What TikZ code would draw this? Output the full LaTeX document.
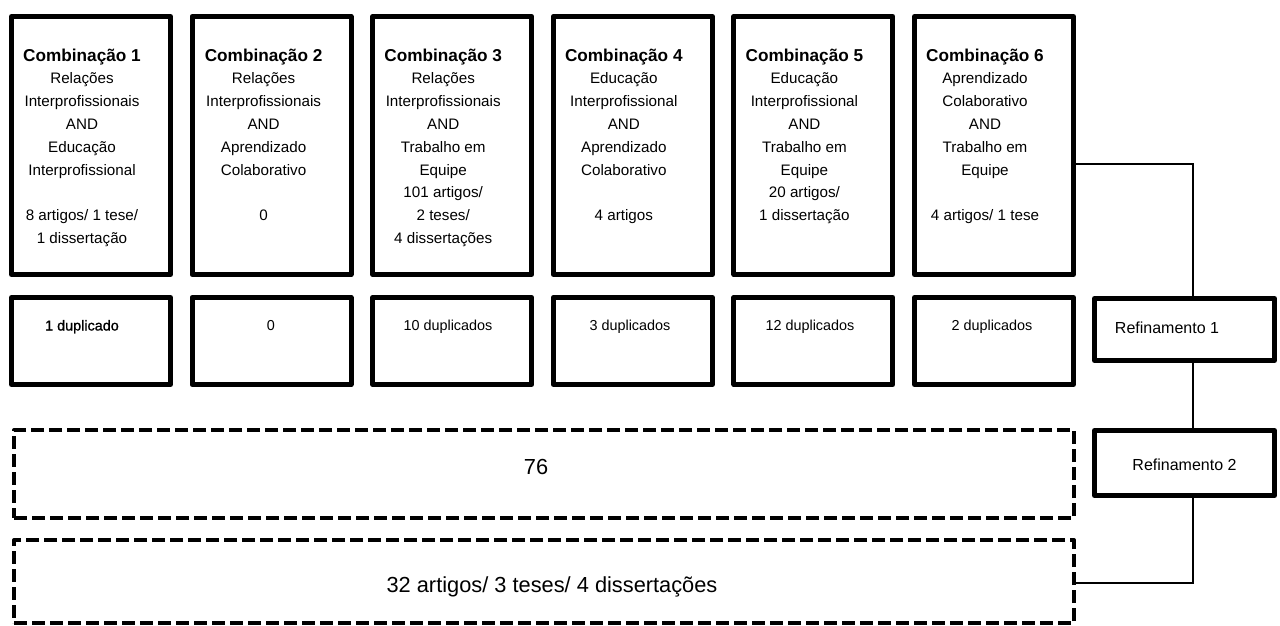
\documentclass[tikz,border=0pt]{standalone}
\usepackage{fontspec}
\setmainfont{Liberation Sans}
\newfontfamily\fakebf[FakeBold=1.2]{Liberation Sans}
\begin{document}
\begin{tikzpicture}[x=1pt,y=-1pt,
  cbox/.style={draw,line width=5pt,line join=round,minimum width=159pt,inner sep=0pt},
  dbox/.style={draw,line width=4pt,line join=round,dash pattern=on 13pt off 5pt,minimum width=1060pt,inner sep=0pt},
  ctext/.style={anchor=north,inner sep=0pt,align=center,font=\fontsize{15.2}{22.8}\selectfont},
  ttl/.style={},
  stext/.style={anchor=base,inner sep=0pt,font=\fontsize{14.4}{17}\selectfont},
  rtext/.style={anchor=base,inner sep=0pt,font=\fontsize{16}{19}\selectfont},
  btext/.style={anchor=base,inner sep=0pt,font=\fontsize{21.8}{26}\selectfont},
  conn/.style={draw,line width=2pt}]
\useasboundingbox (0,0) rectangle (1280,626);
\newcommand{\ttlline}[1]{{\bfseries\fontsize{17.2}{22.8}\selectfont #1}}
% top row boxes
\node[cbox,minimum height=258pt] (c1) at (91,145.5) {};
\node[cbox,minimum height=258pt] (c2) at (271.6,145.5) {};
\node[cbox,minimum height=258pt] (c3) at (452.2,145.5) {};
\node[cbox,minimum height=258pt] (c4) at (632.8,145.5) {};
\node[cbox,minimum height=258pt] (c5) at (813.4,145.5) {};
\node[cbox,minimum height=258pt] (c6) at (994,145.5) {};
% top row texts
\node[ctext] (t1) at (82,48.5) {\ttlline{Combinação 1}\\Relações\\Interprofissionais\\AND\\Educação\\Interprofissional\\[22.8pt]8 artigos/ 1 tese/\\1 dissertação};
\node[ctext] (t2) at (263.6,48.5) {\ttlline{Combinação 2}\\Relações\\Interprofissionais\\AND\\Aprendizado\\Colaborativo\\[22.8pt]0};
\node[ctext] (t3) at (443.2,48.5) {\ttlline{Combinação 3}\\Relações\\Interprofissionais\\AND\\Trabalho em\\Equipe\\101 artigos/\\2 teses/\\4 dissertações};
\node[ctext] (t4) at (623.8,48.5) {\ttlline{Combinação 4}\\Educação\\Interprofissional\\AND\\Aprendizado\\Colaborativo\\[22.8pt]4 artigos};
\node[ctext] (t5) at (804.4,48.5) {\ttlline{Combinação 5}\\Educação\\Interprofissional\\AND\\Trabalho em\\Equipe\\20 artigos/\\1 dissertação};
\node[ctext] (t6) at (985,48.5) {\ttlline{Combinação 6}\\Aprendizado\\Colaborativo\\AND\\Trabalho em\\Equipe\\[22.8pt]4 artigos/ 1 tese};
% second row boxes
\node[cbox,minimum height=87pt] (s1) at (91,341) {};
\node[cbox,minimum height=87pt] (s2) at (271.6,341) {};
\node[cbox,minimum height=87pt] (s3) at (452.2,341) {};
\node[cbox,minimum height=87pt] (s4) at (632.8,341) {};
\node[cbox,minimum height=87pt] (s5) at (813.4,341) {};
\node[cbox,minimum height=87pt] (s6) at (994,341) {};
\node[stext,font=\fontsize{14.4}{17}\fakebf] (u1) at (82,330.5) {1 duplicado};
\node[stext] (u2) at (271,330.5) {0};
\node[stext] (u3) at (448,330.5) {10 duplicados};
\node[stext] (u4) at (630,330.5) {3 duplicados};
\node[stext] (u5) at (810,330.5) {12 duplicados};
\node[stext] (u6) at (992,330.5) {2 duplicados};
% refinement boxes
\node[cbox,minimum width=180pt,minimum height=62pt] (r1) at (1184.5,329.5) {};
\node[cbox,minimum width=180pt,minimum height=65pt] (r2) at (1184.5,463) {};
\node[rtext] (rt1) at (1167,333) {Refinamento 1};
\node[rtext] (rt2) at (1184.5,470) {Refinamento 2};
% dashed boxes
\node[dbox,minimum height=88pt] (d1) at (544,474) {};
\node[dbox,minimum height=83pt] (d2) at (544,581.5) {};
\node[btext] (dt1) at (536,474) {76};
\node[btext] (dt2) at (552,592) {32 artigos/ 3 teses/ 4 dissertações};
% connectors
\coordinate (j1) at (1193,164);
\coordinate (j2) at (1193,583);
\draw[conn] (c6.east |- j1) -- (j1) -- (j1 |- r1.north);
\draw[conn] (j1 |- r1.south) -- (j1 |- r2.north);
\draw[conn] (j1 |- r2.south) -- (j2) -- (j2 -| d2.east);
\end{tikzpicture}
\end{document}
